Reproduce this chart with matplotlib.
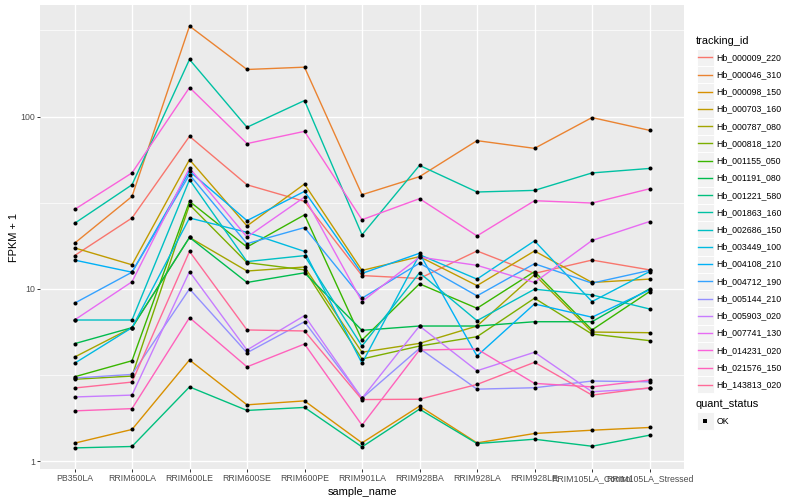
import numpy as np
import matplotlib
matplotlib.use("Agg")
import matplotlib.pyplot as plt
from matplotlib.patches import Rectangle
from matplotlib.lines import Line2D
from matplotlib.ticker import FixedLocator, NullFormatter

samples = ["PB350LA", "RRIM600LA", "RRIM600LE", "RRIM600SE", "RRIM600PE", "RRIM901LA",
           "RRIM928BA", "RRIM928LA", "RRIM928LE", "RRIM105LA_Control", "RRIM105LA_Stressed"]

tracking_ids = ["Hb_000009_220", "Hb_000046_310", "Hb_000098_150", "Hb_000703_160",
                "Hb_000787_080", "Hb_000818_120", "Hb_001155_050", "Hb_001191_080",
                "Hb_001221_580", "Hb_001863_160", "Hb_002686_150", "Hb_003449_100",
                "Hb_004108_210", "Hb_004712_190", "Hb_005144_210", "Hb_005903_020",
                "Hb_007741_130", "Hb_014231_020", "Hb_021576_150", "Hb_143813_020"]

# FPKM + 1, one list per gene, in sample order
hb_000009_220 = [15.6, 25.8, 76.8, 40.2, 32.2, 11.95, 11.5, 16.6, 12.3, 14.7, 12.9]
hb_000046_310 = [18.4, 34.4, 335, 187.6, 193.5, 35.2, 44.8, 72.5, 65.4, 98.7, 83.2]
hb_000098_150 = [1.273, 1.529, 3.87, 2.125, 2.24, 1.278, 2.088, 1.278, 1.449, 1.514, 1.57]
hb_000703_160 = [17.3, 13.8, 56.2, 23.2, 40.6, 12.8, 15.4, 10.45, 16.6, 10.9, 11.4]
hb_000787_080 = [4.02, 5.96, 19.9, 12.7, 13.4, 4.29, 4.83, 6.09, 12.1, 5.62, 5.57]
hb_000818_120 = [2.99, 3.12, 30.8, 14.2, 12.9, 3.92, 4.66, 5.28, 8.83, 5.47, 5.01]
hb_001155_050 = [3.09, 3.83, 32.2, 17.5, 26.9, 5.05, 10.7, 7.72, 12.6, 5.78, 9.64]
hb_001191_080 = [4.81, 5.96, 19.9, 10.9, 12.4, 5.75, 6.09, 6.09, 6.45, 6.45, 10.0]
hb_001221_580 = [1.195, 1.218, 2.70, 1.972, 2.052, 1.211, 2.006, 1.267, 1.342, 1.222, 1.416]
hb_001863_160 = [24.0, 40.2, 214.5, 86.7, 123.9, 20.6, 52.1, 36.5, 37.3, 47.1, 50.0]
hb_002686_150 = [6.60, 6.60, 43.0, 14.4, 15.6, 4.66, 12.4, 6.54, 9.96, 9.23, 7.65]
hb_003449_100 = [3.70, 5.96, 25.8, 21.3, 16.5, 3.70, 15.8, 11.4, 19.0, 8.44, 12.6]
hb_004108_210 = [14.7, 12.5, 48.1, 24.9, 36.8, 12.3, 16.1, 4.08, 8.18, 6.85, 9.87]
hb_004712_190 = [8.26, 12.5, 46.0, 18.3, 22.7, 8.83, 14.1, 9.11, 14.0, 10.8, 12.8]
hb_005144_210 = [3.04, 3.19, 10.0, 4.26, 6.45, 2.32, 4.52, 2.62, 2.67, 2.92, 2.89]
hb_005903_020 = [2.36, 2.42, 12.6, 4.42, 7.00, 2.32, 6.09, 3.35, 4.29, 2.53, 2.65]
hb_007741_130 = [6.60, 11.0, 50.3, 20.0, 34.1, 8.44, 15.3, 13.7, 10.9, 19.1, 24.6]
hb_014231_020 = [28.9, 47.1, 147.4, 69.7, 82.1, 25.2, 33.4, 20.3, 32.5, 31.5, 38.1]
hb_021576_150 = [1.96, 2.02, 6.81, 3.53, 4.79, 1.62, 4.42, 4.48, 2.83, 2.70, 2.96]
hb_143813_020 = [2.66, 2.88, 16.5, 5.78, 5.70, 2.28, 2.29, 2.79, 3.75, 2.42, 2.67]

series = [hb_000009_220, hb_000046_310, hb_000098_150, hb_000703_160, hb_000787_080,
          hb_000818_120, hb_001155_050, hb_001191_080, hb_001221_580, hb_001863_160,
          hb_002686_150, hb_003449_100, hb_004108_210, hb_004712_190, hb_005144_210,
          hb_005903_020, hb_007741_130, hb_014231_020, hb_021576_150, hb_143813_020]

quant_status = ["OK"]


def hcl_hex(h, c=100.0, l=65.0):
    # polar LUV -> sRGB, same as R's hcl() used by ggplot's hue palette
    hr = np.deg2rad(h)
    U, V = c * np.cos(hr), c * np.sin(hr)
    XN, YN, ZN = 95.047, 100.0, 108.883
    Y = YN * ((l + 16) / 116) ** 3
    t = XN + YN + ZN
    x, y = XN / t, YN / t
    uN = 2 * x / (6 * y - x + 1.5)
    vN = 4.5 * y / (6 * y - x + 1.5)
    u = U / (13 * l) + uN
    v = V / (13 * l) + vN
    X = 9.0 * Y * u / (4 * v)
    Z = -X / 3 - 5 * Y + 3 * Y / v
    X, Y, Z = X / 100, Y / 100, Z / 100
    rgb = np.array([3.240479 * X - 1.537150 * Y - 0.498535 * Z,
                    -0.969256 * X + 1.875992 * Y + 0.041556 * Z,
                    0.055648 * X - 0.204043 * Y + 1.057311 * Z])
    rgb = np.where(rgb <= 0.0031308, 12.92 * rgb, 1.055 * np.abs(rgb) ** (1 / 2.4) - 0.055)
    rgb = np.clip(rgb, 0, 1)
    return "#%02X%02X%02X" % tuple(int(round(k * 255)) for k in rgb)


n = len(tracking_ids)
hues = np.linspace(15, 375, n + 1)[:n]
colors = [hcl_hex(h) for h in hues]

plt.rcParams["font.family"] = ["Liberation Sans", "DejaVu Sans"]

W, H = 800, 500
fig = plt.figure(figsize=(W / 100, H / 100), dpi=100)
fig.patch.set_facecolor("white")


def fx(px):
    return px / W


def fy(py):
    return 1 - py / H


ax = fig.add_axes([fx(40), fy(469), (684 - 40) / W, (469 - 5) / H])
ax.set_facecolor("#EBEBEB")
for s in ax.spines.values():
    s.set_visible(False)

xs = np.arange(len(samples))
for i, vals in enumerate(series):
    ax.plot(xs, vals, color=colors[i], lw=1.0, zorder=3, solid_joinstyle="round")
for vals in series:
    ax.plot(xs, vals, ls="none", marker="o", ms=2.9, color="black", mew=0, zorder=4)

ax.set_yscale("log")
allv = np.concatenate([np.array(v, dtype=float) for v in series])
lo, hi = np.log10(allv.min()), np.log10(allv.max())
pad = 0.05 * (hi - lo)
ax.set_ylim(10 ** (lo - pad), 10 ** (hi + pad))
ax.set_xlim(-0.6, len(samples) - 0.4)

ax.yaxis.set_major_locator(FixedLocator([1, 10, 100]))
ax.set_yticklabels(["1", "10", "100"])
ax.yaxis.set_minor_locator(FixedLocator([10 ** 0.5, 10 ** 1.5, 10 ** 2.5]))
ax.yaxis.set_minor_formatter(NullFormatter())
ax.set_xticks(xs)
ax.set_xticklabels(samples)

ax.set_axisbelow(True)
ax.grid(which="major", color="white", lw=1.0)
ax.grid(which="minor", axis="y", color="white", lw=0.5)
ax.tick_params(which="major", length=2.0, width=0.7, color="#333333",
               labelsize=6.3, labelcolor="#4D4D4D", pad=1.6)
ax.tick_params(which="minor", length=0)

fig.text(fx(362), fy(492), "sample_name", fontsize=7.9, ha="center", va="center")
fig.text(fx(14), fy(237), "FPKM + 1", fontsize=7.9, ha="center", va="center", rotation=90)

# legend: tracking_id
key = 17.28
kx0 = 696.5
fig.text(fx(696), fy(40.7), "tracking_id", fontsize=7.9, ha="left", va="center")
for i, tid in enumerate(tracking_ids):
    cy = 57.3 + 17.24 * i
    fig.add_artist(Rectangle((fx(kx0), fy(cy + key / 2)), key / W, key / H,
                             transform=fig.transFigure, facecolor="#F2F2F2",
                             edgecolor="white", lw=0.7))
    fig.add_artist(Line2D([fx(kx0 + 1.7), fx(kx0 + key - 1.7)], [fy(cy), fy(cy)],
                          transform=fig.transFigure, color=colors[i], lw=1.0))
    fig.text(fx(716.5), fy(cy), tid, fontsize=6.3, ha="left", va="center")

# legend: quant_status
fig.text(fx(696), fy(404), "quant_status", fontsize=7.9, ha="left", va="center")
for j, q in enumerate(quant_status):
    cy = 421 + 17.24 * j
    fig.add_artist(Rectangle((fx(kx0), fy(cy + key / 2)), key / W, key / H,
                             transform=fig.transFigure, facecolor="#F2F2F2",
                             edgecolor="white", lw=0.7))
    fig.add_artist(Line2D([fx(kx0 + key / 2)], [fy(cy)], transform=fig.transFigure,
                          ls="none", marker="s", ms=2.7, mew=0, color="black"))
    fig.text(fx(716.5), fy(cy), q, fontsize=6.3, ha="left", va="center")

fig.savefig("out.png", dpi=100)
plt.close(fig)
